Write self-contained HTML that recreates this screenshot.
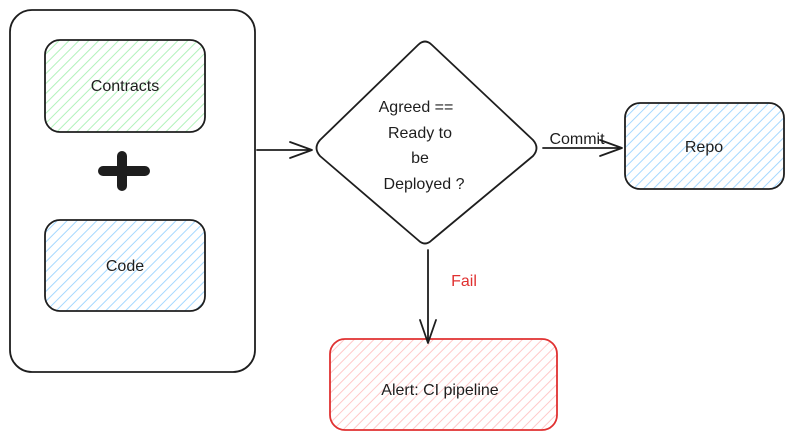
<!DOCTYPE html>
<html><head><meta charset="utf-8"><style>
html,body{margin:0;padding:0;background:#fff;}
svg{display:block;}
text{font-family:"Liberation Sans",sans-serif;font-size:16px;fill:#1e1e1e;text-anchor:middle;}
</style></head><body>
<svg width="793" height="440" viewBox="0 0 793 440" xmlns="http://www.w3.org/2000/svg">
<defs>
<pattern id="hg" width="7" height="7" patternUnits="userSpaceOnUse" patternTransform="rotate(45)"><line x1="0" y1="0" x2="0" y2="7" stroke="#b2f2bb" stroke-width="2"/></pattern>
<pattern id="hb" width="7" height="7" patternUnits="userSpaceOnUse" patternTransform="rotate(45)"><line x1="0" y1="0" x2="0" y2="7" stroke="#a5d8ff" stroke-width="2"/></pattern>
<pattern id="hr" width="7" height="7" patternUnits="userSpaceOnUse" patternTransform="rotate(45)"><line x1="0" y1="0" x2="0" y2="7" stroke="#ffc9c9" stroke-width="2"/></pattern>
</defs>
<g fill="none" stroke="#1e1e1e" stroke-width="1.8" stroke-linecap="round" stroke-linejoin="round">
<rect x="10" y="10" width="245" height="362" rx="22" fill="#fff"/>
<rect x="45" y="40" width="160" height="92" rx="15" fill="url(#hg)"/>
<rect x="45" y="220" width="160" height="91" rx="15" fill="url(#hb)"/>
<rect x="625" y="103" width="159" height="86" rx="15" fill="url(#hb)"/>
<rect x="330" y="339" width="227" height="91" rx="15" fill="url(#hr)" stroke="#e03131"/>
<path d="M418 45 Q425 38 432 45 L533 140 Q540 148 533 156 L432 240 Q425 247 418 240 L320 156 Q313 148 320 140 Z" fill="#fff"/>
<path d="M257 150 L312 150 M290 142 L312 150 L290 158"/>
<path d="M543 148 L622 148 M600 140 L622 148 L600 156"/>
<path d="M428 250 L428 343 M420 320 L428 343 L436 320"/>
</g>
<path d="M103 171 L145 171 M122 156 L122 186" stroke="#1e1e1e" stroke-width="10" stroke-linecap="round"/>
<text x="125" y="91">Contracts</text>
<text x="125" y="271">Code</text>
<text x="416" y="112">Agreed ==</text>
<text x="420" y="138">Ready to</text>
<text x="420" y="163">be</text>
<text x="424" y="189">Deployed ?</text>
<text x="577" y="144">Commit</text>
<text x="704" y="152">Repo</text>
<text x="464" y="286" style="fill:#e03131">Fail</text>
<text x="440" y="395">Alert: CI pipeline</text>
</svg>
</body></html>
